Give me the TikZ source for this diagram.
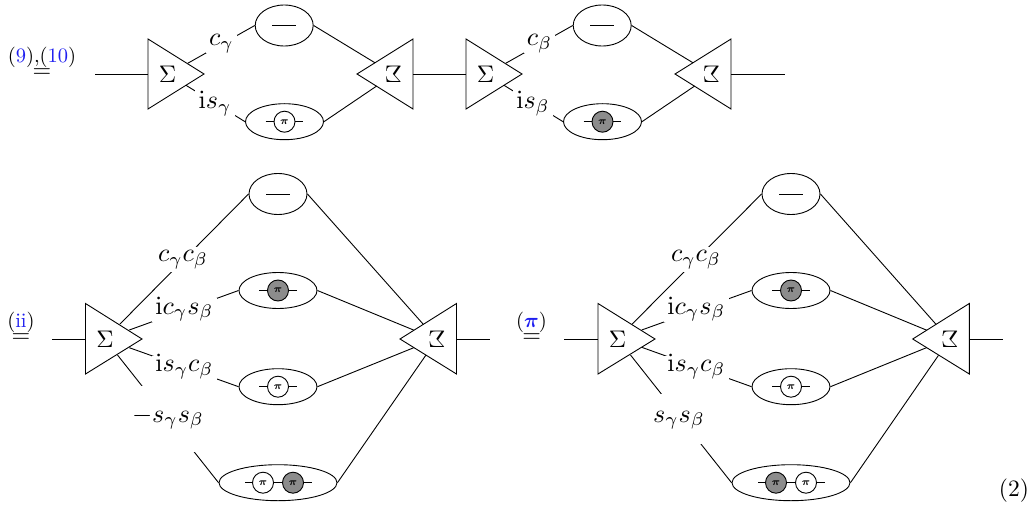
\documentclass[tikz,border=0pt]{standalone}
\usepackage{amsmath}
\usetikzlibrary{shapes.geometric}
\newcommand\lb[1]{\scalebox{2.6}{$#1$}}
\newcommand\sg[1]{\scalebox{2.4}{$#1$}}
\newcommand\sm[1]{\scalebox{2.05}{#1}}
\newcommand\cit[1]{\textcolor{citeblue}{#1}}
\definecolor{citeblue}{RGB}{30,30,240}
\definecolor{ballgray}{RGB}{140,140,140}
\tikzset{
 x=1pt,y=-1pt,
 every path/.style={line width=0.9pt},
 lab/.style n args={3}{fill=white,inner sep=0pt,anchor=base,minimum width=#1,text height=#2,text depth=#3},
 glyph/.style={inner sep=0pt},
 blob/.style={draw,ellipse,inner sep=0pt,minimum width=58pt,minimum height=41pt,fill=white},
 blobm/.style={draw,ellipse,inner sep=0pt,minimum width=78pt,minimum height=36pt,fill=white},
 blobl/.style={draw,ellipse,inner sep=0pt,minimum width=118pt,minimum height=36pt,fill=white},
 wball/.style={draw,circle,inner sep=0pt,minimum size=21pt,fill=white,font=\scriptsize},
 gball/.style={draw,circle,inner sep=0pt,minimum size=21pt,fill=ballgray,font=\scriptsize},
}
\newcommand\pii{\scalebox{1.5}{$\boldsymbol{\pi}$}}
\begin{document}
\begin{tikzpicture}
\useasboundingbox (0,0) rectangle (1036,508);
% ---------- top row, first pair
\coordinate (inA) at (95,74);
\coordinate (A1) at (148,39); \coordinate (A2) at (148,109); \coordinate (A3) at (204,74);
\coordinate (Au) at (187.7,63.3); \coordinate (Ad) at (186,85.3);
\draw (A1) -- (A2) -- (A3) -- cycle;
\node[glyph] (Sa) at (167.5,74) {\sg{\Sigma}};
\coordinate (B1) at (413,39); \coordinate (B2) at (413,109); \coordinate (B3) at (357,74);
\coordinate (Bu) at (375,62.8); \coordinate (Bd) at (376.7,86);
\draw (B1) -- (B2) -- (B3) -- cycle;
\node[glyph] (Sb) at (393.5,74) {\reflectbox{\sg{\Sigma}}};
\node[blob] (e1) at (284.2,25.5) {};
\node[blobm] (e2) at (284.5,121.7) {};
\draw (inA) -- (A1 |- inA);
\draw (Au) -- (e1.west) (e1.east) -- (Bu);
\draw (Ad) -- (e2.west) (e2.east) -- (Bd);
\node[lab={31pt}{11pt}{7pt}] (l1) at (221.5,46) {\lb{c_\gamma}};
\node[lab={40pt}{19pt}{7pt}] (l2) at (215,109) {\lb{\mathrm{i}s_\gamma}};
\coordinate (m1a) at (272,25.5); \coordinate (m1b) at (296,25.5);
\draw (m1a) -- (m1b);
\node[wball] (p1) at (284.5,121.7) {\pii};
\coordinate (p1a) at (265.7,121.7); \coordinate (p1b) at (303.3,121.7);
\draw (p1a) -- (p1) -- (p1b);
% ---------- top row, second pair
\coordinate (C1) at (466,39); \coordinate (C2) at (466,109); \coordinate (C3) at (522,74);
\coordinate (Cu) at (505.7,63.3); \coordinate (Cd) at (504,85.3);
\draw (C1) -- (C2) -- (C3) -- cycle;
\node[glyph] (Sc) at (485.5,74) {\sg{\Sigma}};
\coordinate (D1) at (731,39); \coordinate (D2) at (731,109); \coordinate (D3) at (675,74);
\coordinate (Du) at (693,62.8); \coordinate (Dd) at (694.7,86);
\coordinate (outD) at (785,74);
\draw (D1) -- (D2) -- (D3) -- cycle;
\node[glyph] (Sd) at (711.5,74) {\reflectbox{\sg{\Sigma}}};
\draw (B1 |- inA) -- (C1 |- inA);
\draw (D1 |- outD) -- (outD);
\node[blob] (e3) at (602.2,25.5) {};
\node[blobm] (e4) at (602.5,121.7) {};
\draw (Cu) -- (e3.west) (e3.east) -- (Du);
\draw (Cd) -- (e4.west) (e4.east) -- (Dd);
\node[lab={31pt}{11pt}{7pt}] (l3) at (539.5,46) {\lb{c_\beta}};
\node[lab={40pt}{19pt}{7pt}] (l4) at (533,109) {\lb{\mathrm{i}s_\beta}};
\coordinate (m3a) at (590,25.5); \coordinate (m3b) at (614,25.5);
\draw (m3a) -- (m3b);
\node[gball] (p4) at (602.5,121.7) {\pii};
\coordinate (p4a) at (583.7,121.7); \coordinate (p4b) at (621.3,121.7);
\draw (p4a) -- (p4) -- (p4b);
% ---------- bottom left
\coordinate (inE) at (52,339);
\coordinate (E1) at (85.5,303.5); \coordinate (E2) at (85.5,374); \coordinate (E3) at (142,339);
\coordinate (Ea) at (120,324); \coordinate (Eb) at (129.3,330); \coordinate (Ec) at (129.3,347.7); \coordinate (Ed) at (117.5,355);
\draw (E1) -- (E2) -- (E3) -- cycle;
\draw (inE) -- (E1 |- inE);
\node[glyph] (Se) at (105,339) {\sg{\Sigma}};
\coordinate (F1) at (456.5,303.5); \coordinate (F2) at (456.5,374); \coordinate (F3) at (400,339);
\coordinate (Fa) at (423.3,324.3); \coordinate (Fb) at (414,330.2); \coordinate (Fc) at (414,347.6); \coordinate (Fd) at (426,355);
\coordinate (outF) at (490,339);
\draw (F1) -- (F2) -- (F3) -- cycle;
\draw (F1 |- outF) -- (outF);
\node[glyph] (Sf) at (437,339) {\reflectbox{\sg{\Sigma}}};
\node[blob] (e5) at (278,194) {};
\node[blobm] (e6) at (278,290.5) {};
\node[blobm] (e7) at (278,386.7) {};
\node[blobl] (e8) at (278,482.7) {};
\draw (Ea) -- (e5.west) (e5.east) -- (Fa);
\draw (Eb) -- (e6.west) (e6.east) -- (Fb);
\draw (Ec) -- (e7.west) (e7.east) -- (Fc);
\draw (Ed) -- (e8.west) (e8.east) -- (Fd);
\node[lab={50pt}{15pt}{10pt}] (l5) at (183,261.7) {\lb{c_\gamma c_\beta}};
\node[lab={65pt}{16pt}{8pt}] (l6) at (184.5,314) {\lb{\mathrm{i}c_\gamma s_\beta}};
\node[lab={65pt}{16pt}{8pt}] (l7) at (184.5,371.7) {\lb{\mathrm{i}s_\gamma c_\beta}};
\node[lab={72pt}{36pt}{30pt}] (l8) at (168,422) {\lb{-s_\gamma s_\beta}};
\coordinate (m5a) at (266,194); \coordinate (m5b) at (290,194);
\draw (m5a) -- (m5b);
\node[gball] (p6) at (278,290.5) {\pii};
\coordinate (p6a) at (259.2,290.5); \coordinate (p6b) at (296.8,290.5);
\draw (p6a) -- (p6) -- (p6b);
\node[wball] (p7) at (278,386.7) {\pii};
\coordinate (p7a) at (259.2,386.7); \coordinate (p7b) at (296.8,386.7);
\draw (p7a) -- (p7) -- (p7b);
\node[wball] (p8) at (263,482.7) {\pii};
\node[gball] (q8) at (293,482.7) {\pii};
\coordinate (p8a) at (245,482.7); \coordinate (p8b) at (312,482.7);
\draw (p8a) -- (p8) -- (q8) -- (p8b);
% ---------- bottom right
\coordinate (inG) at (564.3,339);
\coordinate (G1) at (598,303.5); \coordinate (G2) at (598,374); \coordinate (G3) at (655,339);
\coordinate (Ga) at (632,324.2); \coordinate (Gb) at (641.7,330); \coordinate (Gc) at (641.7,347.3); \coordinate (Gd) at (630.5,355);
\draw (G1) -- (G2) -- (G3) -- cycle;
\draw (inG) -- (G1 |- inG);
\node[glyph] (Sg) at (617.5,339) {\sg{\Sigma}};
\coordinate (H1) at (969.3,303.5); \coordinate (H2) at (969.3,374); \coordinate (H3) at (912.7,339);
\coordinate (Ha) at (936,324.3); \coordinate (Hb) at (926.7,330.2); \coordinate (Hc) at (926.7,347.6); \coordinate (Hd) at (938.5,355.3);
\coordinate (outH) at (1002.7,339);
\draw (H1) -- (H2) -- (H3) -- cycle;
\draw (H1 |- outH) -- (outH);
\node[glyph] (Sh) at (950,339) {\reflectbox{\sg{\Sigma}}};
\node[blob] (e9) at (791,194) {};
\node[blobm] (e10) at (791,290.5) {};
\node[blobm] (e11) at (791,386.7) {};
\node[blobl] (e12) at (791,482.7) {};
\draw (Ga) -- (e9.west) (e9.east) -- (Ha);
\draw (Gb) -- (e10.west) (e10.east) -- (Hb);
\draw (Gc) -- (e11.west) (e11.east) -- (Hc);
\draw (Gd) -- (e12.west) (e12.east) -- (Hd);
\node[lab={50pt}{15pt}{10pt}] (l9) at (696,261.7) {\lb{c_\gamma c_\beta}};
\node[lab={65pt}{16pt}{8pt}] (l10) at (696.5,314) {\lb{\mathrm{i}c_\gamma s_\beta}};
\node[lab={65pt}{16pt}{8pt}] (l11) at (696.5,371.7) {\lb{\mathrm{i}s_\gamma c_\beta}};
\node[lab={52pt}{28pt}{22pt}] (l12) at (679,422) {\lb{s_\gamma s_\beta}};
\coordinate (m9a) at (779,194); \coordinate (m9b) at (803,194);
\draw (m9a) -- (m9b);
\node[gball] (p10) at (791,290.5) {\pii};
\coordinate (p10a) at (772.2,290.5); \coordinate (p10b) at (809.8,290.5);
\draw (p10a) -- (p10) -- (p10b);
\node[wball] (p11) at (791,386.7) {\pii};
\coordinate (p11a) at (772.2,386.7); \coordinate (p11b) at (809.8,386.7);
\draw (p11a) -- (p11) -- (p11b);
\node[gball] (p12) at (776,482.7) {\pii};
\node[wball] (q12) at (806,482.7) {\pii};
\coordinate (p12a) at (758,482.7); \coordinate (p12b) at (825,482.7);
\draw (p12a) -- (p12) -- (q12) -- (p12b);
% ---------- equals signs
\node[glyph] (eq1) at (42,72.7) {\sg{=}};
\node[glyph] (c1) at (42,57) {\sm{(\cit{9}),(\cit{10})}};
\node[glyph] (eq2) at (21,338.3) {\sg{=}};
\node[glyph] (c2) at (21,322) {\sm{(\cit{ii})}};
\node[glyph] (eq3) at (531.7,338) {\sg{=}};
\node[glyph] (c3) at (531.5,322) {\sm{(\cit{$\boldsymbol{\pi}$})}};
\node[glyph] (num) at (1014,491) {\scalebox{2.35}{(2)}};
\end{tikzpicture}
\end{document}
